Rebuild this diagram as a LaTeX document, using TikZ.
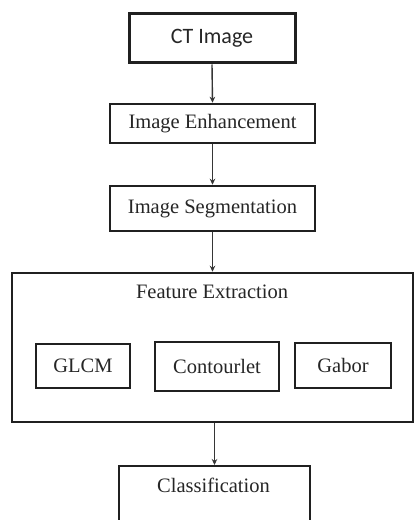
\documentclass[tikz,border=0pt]{standalone}
\usepackage{fontspec}
\setmainfont{Liberation Serif}
\newfontfamily\calibri{Carlito}
\usetikzlibrary{arrows.meta}
\definecolor{ink}{HTML}{202020}
\definecolor{txt}{HTML}{262626}
\begin{document}
\begin{tikzpicture}[x=1pt,y=1pt,
  box/.style={draw=ink, line width=2.5pt, fill=white, inner sep=0pt, text=txt,
    font=\fontsize{20.5}{24}\selectfont},
  conn/.style={draw=ink!90, line width=1.4pt, -{Stealth[length=6pt,width=5.5pt]}},
  lbl/.style={inner sep=0pt, text=txt, font=\fontsize{20.5}{24}\selectfont}]
\useasboundingbox (0,0) rectangle (415,520);
\clip (0,0) rectangle (415,520);
\fill[white] (0,0) rectangle (415,520);
\node[box, line width=3pt, minimum width=166pt, minimum height=49pt,
  font=\calibri\fontsize{22}{26}\selectfont] (ct) at (212,481.5) {CT Image};
\node[box, minimum width=205pt, minimum height=39pt] (enh) at (212.5,396.5) {Image Enhancement};
\node[box, minimum width=205pt, minimum height=45pt] (seg) at (212.5,311.5) {Image Segmentation};
\node[box, minimum width=401pt, minimum height=149pt] (fe) at (212.5,172.5) {};
\node[lbl, anchor=base] (fetitle) at (212,221) {Feature Extraction};
\node[box, minimum width=94pt, minimum height=44pt] (glcm) at (83,154) {GLCM};
\node[box, minimum width=124pt, minimum height=49pt] (cont) at (217,153.5) {Contourlet};
\node[box, minimum width=96pt, minimum height=45pt] (gabor) at (343,154.5) {Gabor};
\node[box, minimum width=191pt, minimum height=62pt, anchor=north] (cls) at (214.5,55) {};
\node[lbl] (clstext) at (213.5,35) {Classification};
\draw[conn] (ct.south) -- (enh.north);
\draw[conn] (enh.south) -- (seg.north);
\draw[conn] (seg.south) -- (fe.north);
\draw[conn] (fe.south -| cls.north) -- (cls.north);
\end{tikzpicture}
\end{document}
